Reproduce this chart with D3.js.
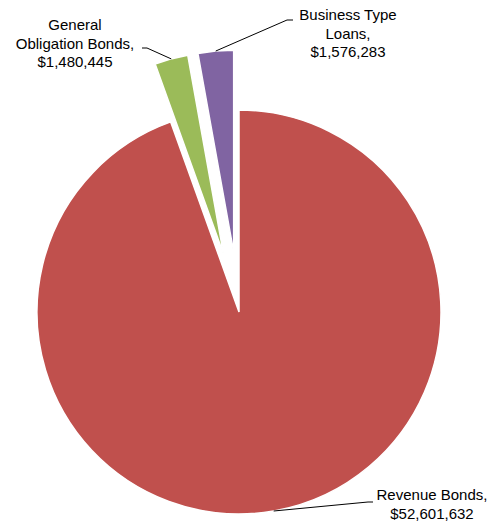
<!DOCTYPE html>
<html><head><meta charset="utf-8">
<script src="https://cdn.jsdelivr.net/npm/d3@7"></script>
<style>body{margin:0;background:#fff}svg{display:block}text{font-family:"Liberation Sans",Arial,sans-serif;font-size:15px;fill:#000}</style>
</head><body>
<script>
const categories = ["Revenue Bonds", "General Obligation Bonds", "Business Type Loans"];
const values = [52601632, 1480445, 1576283];
const colors = ["#C0504D", "#9BBB59", "#8064A2"];
const explode = [0, 60, 60];
const labelLines = [
  ["Revenue Bonds,", "$52,601,632"],
  ["General", "Obligation Bonds,", "$1,480,445"],
  ["Business Type", "Loans,", "$1,576,283"]
];
const W = 491, H = 525, cx = 239, cy = 312, R = 202;
const labelPos = [
  {x:432, y:495, elbow:[368,502], end:[373,502]},
  {x:75,  y:25,  elbow:[147,48],  end:[142,48]},
  {x:348, y:15,  elbow:[287,20],  end:[293,20]}
];

const svg = d3.select("body").append("svg").attr("width", W).attr("height", H);
const g = svg.append("g").attr("transform", `translate(${cx},${cy})`);
const pie = d3.pie().sort(null).startAngle(0).endAngle(2*Math.PI).value(d => d);
const arcs = pie(values);
const arc = d3.arc().innerRadius(0).outerRadius(R);

arcs.forEach((a, i) => {
  const mid = (a.startAngle + a.endAngle) / 2;
  const ox = Math.sin(mid) * explode[i], oy = -Math.cos(mid) * explode[i];
  g.append("path").attr("d", arc(a)).attr("transform", `translate(${ox},${oy})`)
    .attr("fill", colors[i]).attr("stroke", "#fff").attr("stroke-width", 1.5);
  const px = cx + ox + Math.sin(mid) * R, py = cy + oy - Math.cos(mid) * R;
  const L = labelPos[i];
  svg.append("polyline").attr("points", `${px},${py} ${L.elbow[0]},${L.elbow[1]} ${L.end[0]},${L.end[1]}`)
    .attr("fill", "none").attr("stroke", "#000").attr("stroke-width", 1);
  const t = svg.append("text").attr("text-anchor", "middle");
  labelLines[i].forEach((s, j) => {
    t.append("tspan").attr("x", L.x).attr("y", L.y + j*18.5).attr("dy", "0.35em").text(s);
  });
});
</script>
</body></html>
